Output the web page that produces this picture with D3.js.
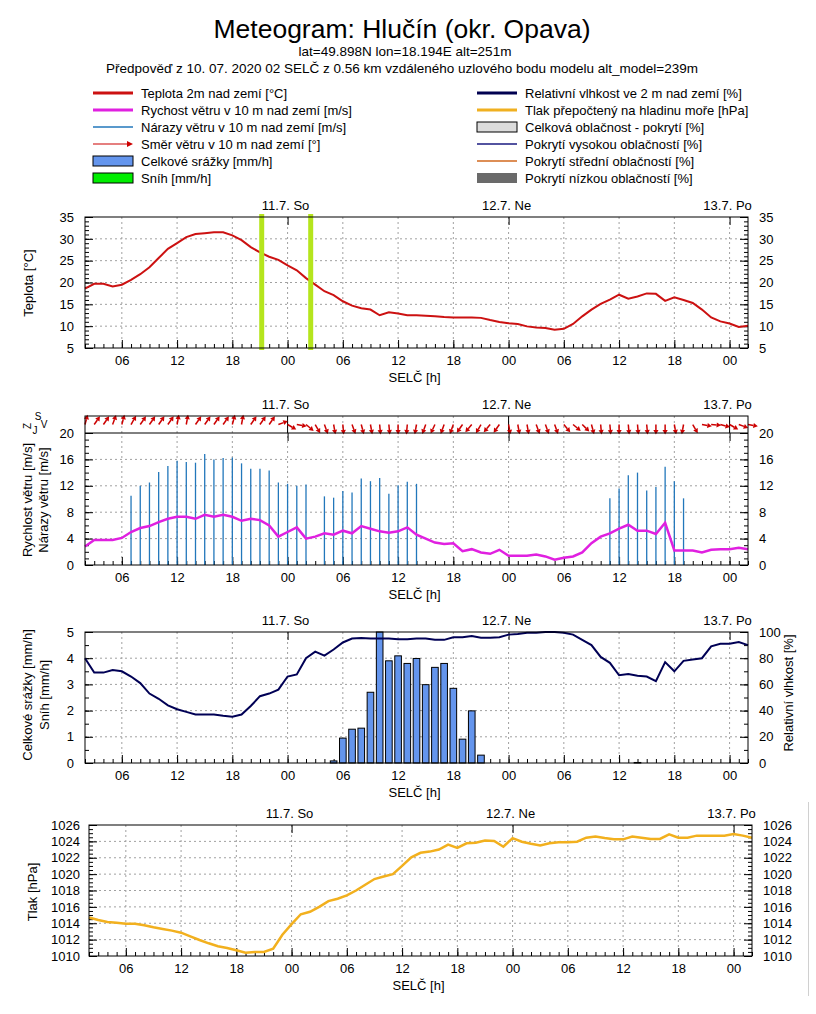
<!DOCTYPE html>
<html><head><meta charset="utf-8">
<script src="https://cdn.jsdelivr.net/npm/d3@7"></script>
<style>body{margin:0;background:#fff} svg text{font-family:"Liberation Sans",Arial,sans-serif;fill:#000}</style>
</head><body><svg id="c" width="816" height="1014"></svg>
<script>
// ---------- DATA (hour index 0 = 10.7. 02:00 SELČ, hourly to 13.7. 02:00) ----------
const hours = d3.range(0, 73);
const dayLabels = ["11.7. So", "12.7. Ne", "13.7. Po"];
const dayHours = [22, 46, 70];
const gridHours = [4, 10, 16, 22, 28, 34, 40, 46, 52, 58, 64, 70];
const gridLabels = ["06", "12", "18", "00", "06", "12", "18", "00", "06", "12", "18", "00"];

const temperature = [18.6,19.7,19.7,19.1,19.5,20.6,21.9,23.5,25.6,27.7,29.0,30.4,31.1,31.3,31.5,31.5,30.8,29.7,28.1,26.9,25.9,25.2,
  23.9,22.8,21.0,19.5,18.0,17.1,15.7,14.7,14.1,13.8,12.5,13.2,12.9,12.5,12.5,12.4,12.25,12.1,12.0,12.0,12.0,11.9,11.4,10.95,
  10.65,10.5,9.95,9.7,9.6,9.2,9.4,10.5,12.25,13.8,15.1,16.1,17.2,16.3,16.8,17.5,17.4,15.8,16.6,16.0,15.3,13.8,12.0,11.1,
  10.6,9.8,10.1];
const markerHours = [19.19, 24.51];

const windSpeed = [2.8,3.8,3.8,3.8,4.1,5.0,5.6,5.9,6.5,7.0,7.3,7.3,7.0,7.6,7.3,7.6,7.3,6.7,7.0,6.8,6.0,4.3,
  5.0,5.7,4.0,4.3,4.8,4.6,5.2,4.8,5.9,5.5,5.1,4.9,5.1,5.7,4.6,4.0,3.4,3.2,3.3,2.1,2.4,1.9,1.7,2.3,
  1.4,1.4,1.4,1.6,1.3,0.8,1.1,1.3,1.9,3.3,4.3,4.8,5.5,6.1,5.2,5.2,4.7,6.4,2.2,2.2,2.2,1.9,2.3,2.4,
  2.4,2.6,2.4];
const gustHours = [5,6,7,8,9,10,11,12,13,14,15,16,17,18,19,20,21,22,23,24,26,27,28,29,30,31,32,33,34,35,36,
  57,58,59,60,61,62,63,64,65];
const gustValues = [10.5,12.0,12.5,14.1,15.0,15.8,15.6,15.5,16.8,16.0,16.2,16.3,15.4,14.6,14.6,14.3,12.5,12.3,12.0,12.2,
  10.4,10.2,11.2,11.0,13.1,12.7,13.2,10.8,12.1,12.6,12.3,
  10.1,11.6,13.6,14.0,11.3,11.8,14.9,12.7,10.1];
// heading the arrow points to, degrees clockwise from north
const windArrowDir = [15,35,35,20,15,30,35,35,35,35,10,10,35,35,35,35,15,10,35,35,35,70,
  120,100,130,150,160,170,175,160,165,170,175,175,180,185,190,200,205,200,200,215,220,210,220,215,
  170,170,170,160,160,160,140,130,135,165,175,175,180,175,175,175,180,180,170,190,150,100,95,105,
  120,110,100];

const precipHours = [27,28,29,30,31,32,33,34,35,36,37,38,39,40,41,42,43,60];
const precipValues = [0.08,0.95,1.29,1.33,2.7,5.0,3.9,4.09,3.8,3.99,2.99,3.65,3.8,2.85,0.91,1.99,0.3,0.02];
const humidity = [80,69,69,71,70,66,61,53,49,44,41,39,37,37,37,36,35.4,37,43.5,51,53,56,
  66,67.6,80,85,82,86.6,92,95,95.4,95,95,95,94.5,94.5,95,95,94,94,96,96,97,95.7,95.7,96,
  98,98.5,99.5,99.5,100,100,99.5,98,94,90,81,76.5,67,68,66.6,66,62.5,77,70,78,79,80,89,91,
  91,92.4,90];

const pressure = [1014.7,1014.4,1014.15,1014.07,1013.95,1013.95,1013.75,1013.5,1013.3,1013.1,1012.85,1012.4,1011.95,1011.55,
  1011.2,1010.97,1010.7,1010.4,1010.5,1010.5,1010.9,1012.6,
  1013.9,1015.1,1015.4,1016.0,1016.7,1017.0,1017.4,1018.0,1018.7,1019.4,1019.7,1020.0,1021.0,1022.05,1022.6,1022.75,
  1023.0,1023.6,1023.2,1023.76,1023.84,1024.1,1024.05,1023.35,
  1024.4,1023.96,1023.7,1023.5,1023.76,1023.88,1023.88,1023.96,1024.45,1024.6,1024.4,1024.25,1024.25,1024.6,1024.45,
  1024.3,1024.3,1024.86,1024.45,1024.45,1024.7,1024.7,1024.7,1024.7,
  1024.9,1024.7,1024.45];

const legendLeft = ["Teplota 2m nad zemí [°C]","Rychost větru v 10 m nad zemí [m/s]","Nárazy větru v 10 m nad zemí [m/s]",
  "Směr větru v 10 m nad zemí [°]","Celkové srážky [mm/h]","Sníh [mm/h]"];
const legendRight = ["Relativní vlhkost ve 2 m nad zemí [%]","Tlak přepočtený na hladinu moře [hPa]","Celková oblačnost - pokrytí [%]",
  "Pokrytí vysokou oblačností [%]","Pokrytí střední oblačností [%]","Pokrytí nízkou oblačností [%]"];

// ---------- DRAWING ----------
const svg = d3.select("#c");
svg.append("rect").attr("width", 816).attr("height", 1014).attr("fill", "#fff");
const FONT = '"Liberation Sans", Arial, sans-serif';
const GRID = "#a0a0a0";

function text(x, y, s, size, anchor = "start", rot = 0) {
  const t = svg.append("text").attr("font-size", size).attr("text-anchor", anchor).text(s);
  if (rot) t.attr("transform", `translate(${x},${y}) rotate(${rot})`).attr("dy", "0.35em");
  else t.attr("x", x).attr("y", y);
  return t;
}

// Titles
text(402, 38, "Meteogram: Hlučín (okr. Opava)", 26.5, "middle");
text(405, 56, "lat=49.898N lon=18.194E alt=251m", 13.5, "middle");
text(402, 73, "Předpověď z 10. 07. 2020 02 SELČ z 0.56 km vzdáleného uzlového bodu modelu alt_model=239m", 13.5, "middle");

// Legend
const lgY = d3.range(6).map(i => 93 + i * 17);
const lg = svg.append("g");
legendLeft.forEach((s, i) => text(141, lgY[i] + 4.5, s, 13));
legendRight.forEach((s, i) => text(525, lgY[i] + 4.5, s, 13));
lg.append("line").attr("x1", 93).attr("x2", 133).attr("y1", lgY[0]).attr("y2", lgY[0]).attr("stroke", "#cc1111").attr("stroke-width", 3);
lg.append("line").attr("x1", 93).attr("x2", 133).attr("y1", lgY[1]).attr("y2", lgY[1]).attr("stroke", "#e020e0").attr("stroke-width", 3);
lg.append("line").attr("x1", 93).attr("x2", 133).attr("y1", lgY[2]).attr("y2", lgY[2]).attr("stroke", "#2277bb").attr("stroke-width", 1.3);
lg.append("line").attr("x1", 93).attr("x2", 129).attr("y1", lgY[3]).attr("y2", lgY[3]).attr("stroke", "#cc0000").attr("stroke-width", 1.2);
lg.append("path").attr("d", `M133,${lgY[3]} l-6,-3 l0,6 z`).attr("fill", "#cc0000");
lg.append("rect").attr("x", 93).attr("y", lgY[4] - 5).attr("width", 40).attr("height", 10).attr("fill", "#6495ed").attr("stroke", "#000");
lg.append("rect").attr("x", 93).attr("y", lgY[5] - 5).attr("width", 40).attr("height", 10).attr("fill", "#00ee00").attr("stroke", "#000");
lg.append("line").attr("x1", 477).attr("x2", 517).attr("y1", lgY[0]).attr("y2", lgY[0]).attr("stroke", "#000050").attr("stroke-width", 3);
lg.append("line").attr("x1", 477).attr("x2", 517).attr("y1", lgY[1]).attr("y2", lgY[1]).attr("stroke", "#f0b020").attr("stroke-width", 3);
lg.append("rect").attr("x", 477).attr("y", lgY[2] - 5).attr("width", 40).attr("height", 10).attr("fill", "#dcdcdc").attr("stroke", "#000");
lg.append("line").attr("x1", 477).attr("x2", 517).attr("y1", lgY[3]).attr("y2", lgY[3]).attr("stroke", "#1a1a80").attr("stroke-width", 1.3);
lg.append("line").attr("x1", 477).attr("x2", 517).attr("y1", lgY[4]).attr("y2", lgY[4]).attr("stroke", "#d2691e").attr("stroke-width", 1.3);
lg.append("rect").attr("x", 477).attr("y", lgY[5] - 5).attr("width", 40).attr("height", 10).attr("fill", "#6a6a6a");

function styleAxis(sel) {
  sel.attr("font-size", 13).attr("font-family", FONT);
  sel.select(".domain").remove();
  sel.selectAll("text").attr("fill", "#000");
}

function panel(p) {
  const x = d3.scaleLinear().domain([0, 72]).range([p.x0, p.x1]);
  const yL = d3.scaleLinear().domain(p.yLDom).range([p.bottom, p.top]);
  const yR = p.yRDom ? d3.scaleLinear().domain(p.yRDom).range([p.bottom, p.top]) : yL;
  const g = svg.append("g");
  const gridTop = p.boxTop;
  g.append("g").selectAll("line").data(gridHours).join("line")
    .attr("x1", d => x(d)).attr("x2", d => x(d)).attr("y1", gridTop).attr("y2", p.bottom)
    .attr("stroke", GRID).attr("stroke-dasharray", "2,3").attr("stroke-width", 1);
  g.append("g").selectAll("line").data(p.yLTicks.slice(1, -1)).join("line")
    .attr("x1", p.x0).attr("x2", p.x1).attr("y1", d => yL(d)).attr("y2", d => yL(d))
    .attr("stroke", GRID).attr("stroke-dasharray", "2,3");
  g.append("g").attr("transform", `translate(0,${p.bottom})`)
    .call(d3.axisBottom(x).tickValues(hours).tickSize(-4).tickFormat("")).call(styleAxis);
  g.append("g").attr("transform", `translate(0,${p.bottom})`)
    .call(d3.axisBottom(x).tickValues(gridHours).tickSize(-8).tickPadding(8).tickFormat((d, i) => gridLabels[i])).call(styleAxis);
  g.append("g").attr("transform", `translate(0,${p.top})`)
    .call(d3.axisTop(x).tickValues(dayHours).tickSize(-8).tickFormat("")).call(styleAxis);
  g.append("g").attr("transform", `translate(${p.x0},0)`)
    .call(d3.axisLeft(yL).tickValues(p.yLMinor).tickSize(-4).tickFormat("")).call(styleAxis);
  g.append("g").attr("transform", `translate(${p.x0},0)`)
    .call(d3.axisLeft(yL).tickValues(p.yLTicks).tickSize(-8).tickPadding(p.padL).tickFormat(d3.format("d"))).call(styleAxis);
  g.append("g").attr("transform", `translate(${p.x1},0)`)
    .call(d3.axisRight(yR).tickValues(p.yRMinor).tickSize(-4).tickFormat("")).call(styleAxis);
  g.append("g").attr("transform", `translate(${p.x1},0)`)
    .call(d3.axisRight(yR).tickValues(p.yRTicks).tickSize(-8).tickPadding(p.padR).tickFormat(d3.format("d"))).call(styleAxis);
  dayHours.forEach((h, i) => text(x(h) - 2, p.boxTop - 7, dayLabels[i], 13, "middle"));
  text((p.x0 + p.x1) / 2 - 2, p.bottom + 34, "SELČ [h]", 13, "middle");
  return { x, yL, yR, g };
}

// ---- Panel 1: temperature ----
const P1 = panel({ x0: 85, x1: 748, top: 217, bottom: 348, boxTop: 217, yLDom: [5, 35],
  yLTicks: d3.range(5, 36, 5), yLMinor: d3.range(5, 36, 1), yRTicks: d3.range(5, 36, 5), yRMinor: d3.range(5, 36, 1), padL: 11, padR: 11 });
svg.append("path").datum(hours).attr("fill", "none").attr("stroke", "#cc1111").attr("stroke-width", 2)
  .attr("d", d3.line().x(h => P1.x(h)).y(h => P1.yL(temperature[h])));
svg.append("g").selectAll("line").data(markerHours).join("line")
  .attr("x1", d => P1.x(d)).attr("x2", d => P1.x(d)).attr("y1", 214).attr("y2", 350)
  .attr("stroke", "#b5e51d").attr("stroke-width", 5);
svg.append("rect").attr("x", 85).attr("y", 217).attr("width", 663).attr("height", 131).attr("fill", "none").attr("stroke", "#000");
text(28, 283, "Teplota [°C]", 13, "middle", -90);

// ---- Panel 2: wind ----
const P2 = panel({ x0: 85, x1: 748, top: 433, bottom: 565, boxTop: 416, yLDom: [0, 20],
  yLTicks: d3.range(0, 21, 4), yLMinor: d3.range(0, 21, 1), yRTicks: d3.range(0, 21, 4), yRMinor: d3.range(0, 21, 1), padL: 11, padR: 11 });
svg.append("g").selectAll("line").data(gustHours).join("line")
  .attr("x1", h => P2.x(h)).attr("x2", h => P2.x(h)).attr("y1", P2.yL(0)).attr("y2", (h, i) => P2.yL(gustValues[i]))
  .attr("stroke", "#2277bb").attr("stroke-width", 1.3);
svg.append("path").datum(hours).attr("fill", "none").attr("stroke", "#e020e0").attr("stroke-width", 2.5)
  .attr("d", d3.line().x(h => P2.x(h)).y(h => P2.yL(windSpeed[h])));
svg.append("g").selectAll("line").data(dayHours).join("line")
  .attr("x1", h => P2.x(h)).attr("x2", h => P2.x(h)).attr("y1", 416).attr("y2", 433).attr("stroke", "#000");
// wind direction arrows
const yc = 424.5, AL = 10;
const ag = svg.append("g");
hours.forEach(h => {
  const a = windArrowDir[h] * Math.PI / 180;
  const ux = Math.sin(a), uy = -Math.cos(a);
  const x0 = P2.x(h), x1 = x0 + AL * ux, y1 = yc + AL * uy;
  const hx = x1 - 4.5 * ux, hy = y1 - 4.5 * uy;
  ag.append("line").attr("x1", x0).attr("y1", yc).attr("x2", hx).attr("y2", hy).attr("stroke", "#cc0000").attr("stroke-width", 1.5);
  ag.append("path").attr("d", `M${x1},${y1} L${hx - 2.6 * uy},${hy + 2.6 * ux} L${hx + 2.6 * uy},${hy - 2.6 * ux} Z`).attr("fill", "#cc0000");
});
svg.append("rect").attr("x", 85).attr("y", 416).attr("width", 663).attr("height", 149).attr("fill", "none").attr("stroke", "#000");
svg.append("line").attr("x1", 85).attr("x2", 748).attr("y1", 433).attr("y2", 433).attr("stroke", "#000");
text(27, 500, "Rychlost větru [m/s]", 13, "middle", -90);
text(43, 500, "Nárazy větru [m/s]", 13, "middle", -90);
text(38, 420, "S", 10, "middle");
text(27, 426, "Z", 10, "middle", -90);
text(35, 434, "J", 10, "middle");
text(44, 428, "V", 10, "middle");

// ---- Panel 3: precipitation + humidity ----
const P3 = panel({ x0: 85, x1: 748, top: 632, bottom: 763, boxTop: 632, yLDom: [0, 5], yRDom: [0, 100],
  yLTicks: d3.range(0, 6, 1), yLMinor: d3.range(0, 5.01, 0.5), yRTicks: d3.range(0, 101, 20), yRMinor: d3.range(0, 101, 10), padL: 11, padR: 11 });
const bw = (P3.x(1) - P3.x(0)) * 0.72;
svg.append("g").selectAll("rect").data(precipHours).join("rect")
  .attr("x", h => P3.x(h) - bw / 2).attr("width", bw)
  .attr("y", (h, i) => P3.yL(precipValues[i])).attr("height", (h, i) => P3.yL(0) - P3.yL(precipValues[i]))
  .attr("fill", "#6495ed").attr("stroke", "#000").attr("stroke-width", 1);
svg.append("path").datum(hours).attr("fill", "none").attr("stroke", "#000055").attr("stroke-width", 2)
  .attr("d", d3.line().x(h => P3.x(h)).y(h => P3.yR(humidity[h])));
svg.append("rect").attr("x", 85).attr("y", 632).attr("width", 663).attr("height", 131).attr("fill", "none").attr("stroke", "#000");
text(27, 695, "Celkové srážky [mm/h]", 13, "middle", -90);
text(44, 695, "Sníh [mm/h]", 13, "middle", -90);
text(788, 693, "Relativní vlhkost [%]", 13, "middle", -90);

// ---- Panel 4: pressure ----
const P4 = panel({ x0: 89, x1: 752, top: 825, bottom: 956, boxTop: 825, yLDom: [1010, 1026],
  yLTicks: d3.range(1010, 1027, 2), yLMinor: d3.range(1010, 1026.01, 0.5), yRTicks: d3.range(1010, 1027, 2), yRMinor: d3.range(1010, 1026.01, 0.5), padL: 9, padR: 11 });
svg.append("path").datum(hours).attr("fill", "none").attr("stroke", "#f2b01e").attr("stroke-width", 2.5)
  .attr("d", d3.line().x(h => P4.x(h)).y(h => P4.yL(pressure[h])));
svg.append("rect").attr("x", 89).attr("y", 825).attr("width", 663).attr("height", 131).attr("fill", "none").attr("stroke", "#000");
text(32, 892, "Tlak [hPa]", 13, "middle", -90);

svg.append("line").attr("x1", 808.5).attr("x2", 808.5).attr("y1", 802).attr("y2", 996).attr("stroke", "#d0d0d0");
</script></body></html>
